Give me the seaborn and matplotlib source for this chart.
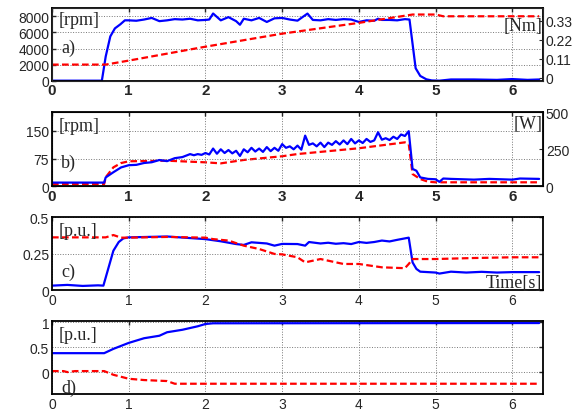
import pandas as pd
import seaborn as sns
import matplotlib.pyplot as plt

# a) speed [rpm] (blue) and load torque [Nm] (red)
t_speed_a = [0, 0.65, 0.7, 0.76, 0.82, 0.89, 0.95, 1.0, 1.1, 1.2, 1.3, 1.4, 1.5, 1.6, 1.7, 1.8, 1.9,
             2.0, 2.05, 2.1, 2.2, 2.3, 2.4, 2.45, 2.5, 2.6, 2.7, 2.8, 2.9, 3.0, 3.1, 3.2, 3.33, 3.4, 3.5,
             3.6, 3.7, 3.8, 3.9, 4.0, 4.1, 4.2, 4.25, 4.3, 4.4, 4.5, 4.6, 4.66, 4.74, 4.8, 4.88, 4.95,
             5.05, 5.2, 5.5, 5.8, 6.0, 6.2, 6.35]
speed_a = [0, 0, 3000, 5500, 6500, 7000, 7500, 7500, 7450, 7600, 7800, 7400, 7500, 7650, 7600,
           7700, 7500, 7550, 7600, 8350, 7500, 7900, 7400, 6950, 7700, 7500, 7800, 7300, 7750, 7800,
           7600, 7460, 8340, 7550, 7500, 7650, 7550, 7650, 7600, 7300, 7500, 7450, 7700, 7550, 7550,
           7500, 7650, 7600, 1550, 590, 170, 30, 0, 150, 150, 100, 200, 100, 150]
t_torque_a = [0, 0.7, 1.0, 2.0, 3.0, 4.0, 4.7, 5.0, 5.1, 6.35]
torque_a = [0.077, 0.077, 0.10, 0.18, 0.255, 0.317, 0.365, 0.365, 0.355, 0.355]

# b) [rpm] (blue) and [W] (red)
t_b_blue = [0, 0.68, 0.7, 0.8, 0.9, 1.0, 1.1, 1.2, 1.3, 1.4, 1.5, 1.6, 1.7, 1.8, 1.85, 1.9, 1.95,
            2.0, 2.05, 2.1, 2.15, 2.2, 2.25, 2.3, 2.35, 2.4, 2.45, 2.5, 2.55, 2.6, 2.65, 2.7, 2.75,
            2.8, 2.85, 2.9, 2.95, 3.0, 3.05, 3.1, 3.15, 3.2, 3.25, 3.3, 3.35, 3.4, 3.45, 3.5, 3.55,
            3.6, 3.65, 3.7, 3.75, 3.8, 3.85, 3.9, 3.95, 4.0, 4.05, 4.1, 4.15, 4.2, 4.25, 4.3, 4.35,
            4.4, 4.45, 4.5, 4.55, 4.6, 4.65, 4.7, 4.75, 4.8, 4.9, 5.0, 5.05, 5.1, 5.2, 5.5, 5.7, 6.0,
            6.1, 6.35]
b_blue = [10, 10, 24, 38, 51, 57, 58, 63, 65, 71, 68, 76, 79, 87, 84, 87, 85,
          90, 86, 102, 88, 100, 90, 98, 89, 96, 82, 100, 92, 104, 94, 102, 93,
          106, 95, 104, 96, 114, 104, 108, 100, 110, 99, 137, 112, 116, 108, 118, 106,
          118, 112, 122, 113, 124, 114, 128, 116, 124, 117, 128, 120, 124, 146, 126, 130,
          125, 134, 128, 140, 136, 149, 47, 42, 24, 20, 19, 12, 21, 20, 18, 20, 18,
          21, 20]
t_b_red = [0, 0.68, 0.7, 0.8, 0.9, 1.0, 1.5, 2.0, 2.2, 2.5, 3.0, 3.2, 4.0, 4.6, 4.65, 4.7, 4.8,
           4.9, 5.0, 6.35]
b_red = [15, 15, 61, 128, 157, 169, 173, 162, 155, 178, 203, 218, 257, 297, 286, 83, 49,
         31, 27, 27]

# c) [p.u.]
t_c_blue = [0, 0.2, 0.4, 0.6, 0.67, 0.8, 0.87, 0.93, 1.0, 1.5, 2.0, 2.2, 2.4, 2.5, 2.6, 2.8,
            2.9, 3.0, 3.2, 3.3, 3.35, 3.5, 3.6, 3.7, 3.8, 3.9, 4.0, 4.1, 4.2, 4.3, 4.4, 4.5,
            4.6, 4.65, 4.7, 4.75, 4.8, 5.0, 5.05, 5.2, 5.4, 5.6, 5.8, 6.0, 6.35]
c_blue = [0.03, 0.035, 0.028, 0.032, 0.03, 0.27, 0.33, 0.355, 0.362, 0.368, 0.35, 0.335, 0.316,
          0.31, 0.328, 0.32, 0.305, 0.317, 0.316, 0.305, 0.33, 0.32, 0.325, 0.318, 0.322, 0.316,
          0.33, 0.324, 0.33, 0.34, 0.334, 0.345, 0.355, 0.36, 0.19, 0.145, 0.126, 0.12, 0.113,
          0.126, 0.12, 0.125, 0.12, 0.123, 0.123]
t_c_red = [0, 0.7, 0.8, 0.9, 1.0, 1.5, 2.0, 2.1, 2.3, 2.5, 2.7, 2.9, 3.0, 3.2, 3.3, 3.5, 3.8,
           4.0, 4.3, 4.6, 4.65, 4.7, 5.0, 5.5, 6.0, 6.35]
c_red = [0.362, 0.362, 0.378, 0.36, 0.36, 0.365, 0.36, 0.35, 0.34, 0.305, 0.282, 0.248, 0.245,
         0.225, 0.19, 0.213, 0.179, 0.179, 0.156, 0.15, 0.179, 0.213, 0.213, 0.22, 0.225, 0.225]

# d) [p.u.]
t_d_blue = [0, 0.68, 0.8, 1.0, 1.2, 1.4, 1.5, 1.7, 1.9, 2.0, 2.1, 6.35]
d_blue = [0.38, 0.38, 0.466, 0.586, 0.68, 0.73, 0.8, 0.85, 0.92, 0.966, 0.98, 0.985]
t_d_red = [0, 0.15, 0.2, 0.3, 0.68, 0.8, 1.0, 1.2, 1.5, 1.6, 2.0, 6.35]
d_red = [0.02, 0.02, 0.0, 0.02, 0.02, -0.054, -0.134, -0.16, -0.18, -0.234, -0.234, -0.234]

x_ticks = [0, 1, 2, 3, 4, 5, 6]

sns.set_style('white')
plt.rcParams['font.family'] = ['Liberation Sans', 'DejaVu Sans']
plt.rcParams['xtick.direction'] = 'in'
plt.rcParams['ytick.direction'] = 'in'

BLUE = '#0000ff'
RED = '#ff0000'
SERIF = 'Liberation Serif'
TXT = 13


def line(ax, t, v, color, dashed=False):
    df = pd.DataFrame({'t': t, 'v': v})
    sns.lineplot(data=df, x='t', y='v', ax=ax, color=color, lw=1.6,
                 linestyle='--' if dashed else '-', estimator=None, sort=False)
    if dashed:
        ax.lines[-1].set_dashes((3, 1.5))


def style(ax, yticks, ylim, bold_x):
    ax.set_xlim(0, 6.4)
    ax.set_ylim(*ylim)
    ax.set_xticks(x_ticks)
    ax.set_yticks(yticks)
    ax.set_xlabel('')
    ax.set_ylabel('')
    ax.grid(True, color='#777777', linestyle=':', linewidth=0.7)
    ax.tick_params(top=True, length=3, width=1, labelsize=10, pad=2)
    for lab in ax.get_xticklabels():
        lab.set_fontweight('bold' if bold_x else 'normal')
        lab.set_fontsize(11 if bold_x else 10)
    for s in ax.spines.values():
        s.set_linewidth(1.3)
        s.set_color('black')


fig = plt.figure(figsize=(5.79, 4.14), dpi=100)
L, W = 0.0898, 0.848
ax_a = fig.add_axes([L, 0.8027, W, 0.1749])
ax_b = fig.add_axes([L, 0.5476, W, 0.1787])
ax_c = fig.add_axes([L, 0.2971, W, 0.1756])
ax_d = fig.add_axes([L, 0.0459, W, 0.1756])

# panel a
ax_a2 = ax_a.twinx()
line(ax_a, t_speed_a, speed_a, BLUE)
line(ax_a2, t_torque_a, torque_a, RED, dashed=True)
style(ax_a, [0, 2000, 4000, 6000, 8000], (0, 9000), True)
ax_a2.set_ylim(-0.0155, 0.401)
ax_a2.set_yticks([0, 0.11, 0.22, 0.33])
ax_a2.set_yticklabels(['0', '0.11', '0.22', '0.33'])
ax_a2.set_ylabel('')
ax_a2.tick_params(length=3, labelsize=10, pad=2)
ax_a.text(0.08, 7650, '[rpm]', family=SERIF, fontsize=TXT, va='center')
ax_a.text(0.12, 4100, 'a)', family=SERIF, fontsize=TXT, va='center')
ax_a2.text(6.39, 0.3, '[Nm]', family=SERIF, fontsize=TXT, va='center', ha='right')

# panel b
ax_b2 = ax_b.twinx()
line(ax_b, t_b_blue, b_blue, BLUE)
line(ax_b2, t_b_red, b_red, RED, dashed=True)
ax_b.set_zorder(ax_b2.get_zorder() + 1)
ax_b.patch.set_visible(False)
style(ax_b, [0, 75, 150], (0, 200), True)
ax_b2.set_ylim(0, 500)
ax_b2.set_yticks([0, 250, 500])
ax_b2.set_ylabel('')
ax_b2.tick_params(length=3, labelsize=10, pad=2)
ax_b.text(0.08, 163, '[rpm]', family=SERIF, fontsize=TXT, va='center')
ax_b.text(0.12, 66, 'b)', family=SERIF, fontsize=TXT, va='center')
ax_b2.text(6.39, 425, '[W]', family=SERIF, fontsize=TXT, va='center', ha='right')

# panel c
line(ax_c, t_c_blue, c_blue, BLUE)
line(ax_c, t_c_red, c_red, RED, dashed=True)
style(ax_c, [0, 0.25, 0.5], (0, 0.5), False)
ax_c.set_yticklabels(['0', '0.25', '0.5'])
ax_c.tick_params(right=True)
ax_c.text(0.08, 0.41, '[p.u.]', family=SERIF, fontsize=TXT, va='center')
ax_c.text(0.12, 0.13, 'c)', family=SERIF, fontsize=TXT, va='center')
ax_c.text(6.39, 0.055, 'Time[s]', family=SERIF, fontsize=TXT, va='center', ha='right')

# panel d
line(ax_d, t_d_blue, d_blue, BLUE)
line(ax_d, t_d_red, d_red, RED, dashed=True)
style(ax_d, [0, 0.5, 1], (-0.44, 1.02), False)
ax_d.set_yticklabels(['0', '0.5', '1'])
ax_d.tick_params(right=True)
ax_d.text(0.08, 0.76, '[p.u.]', family=SERIF, fontsize=TXT, va='center')
ax_d.text(0.12, -0.3, 'd)', family=SERIF, fontsize=TXT, va='center')

fig.savefig('out.png', dpi=100)
